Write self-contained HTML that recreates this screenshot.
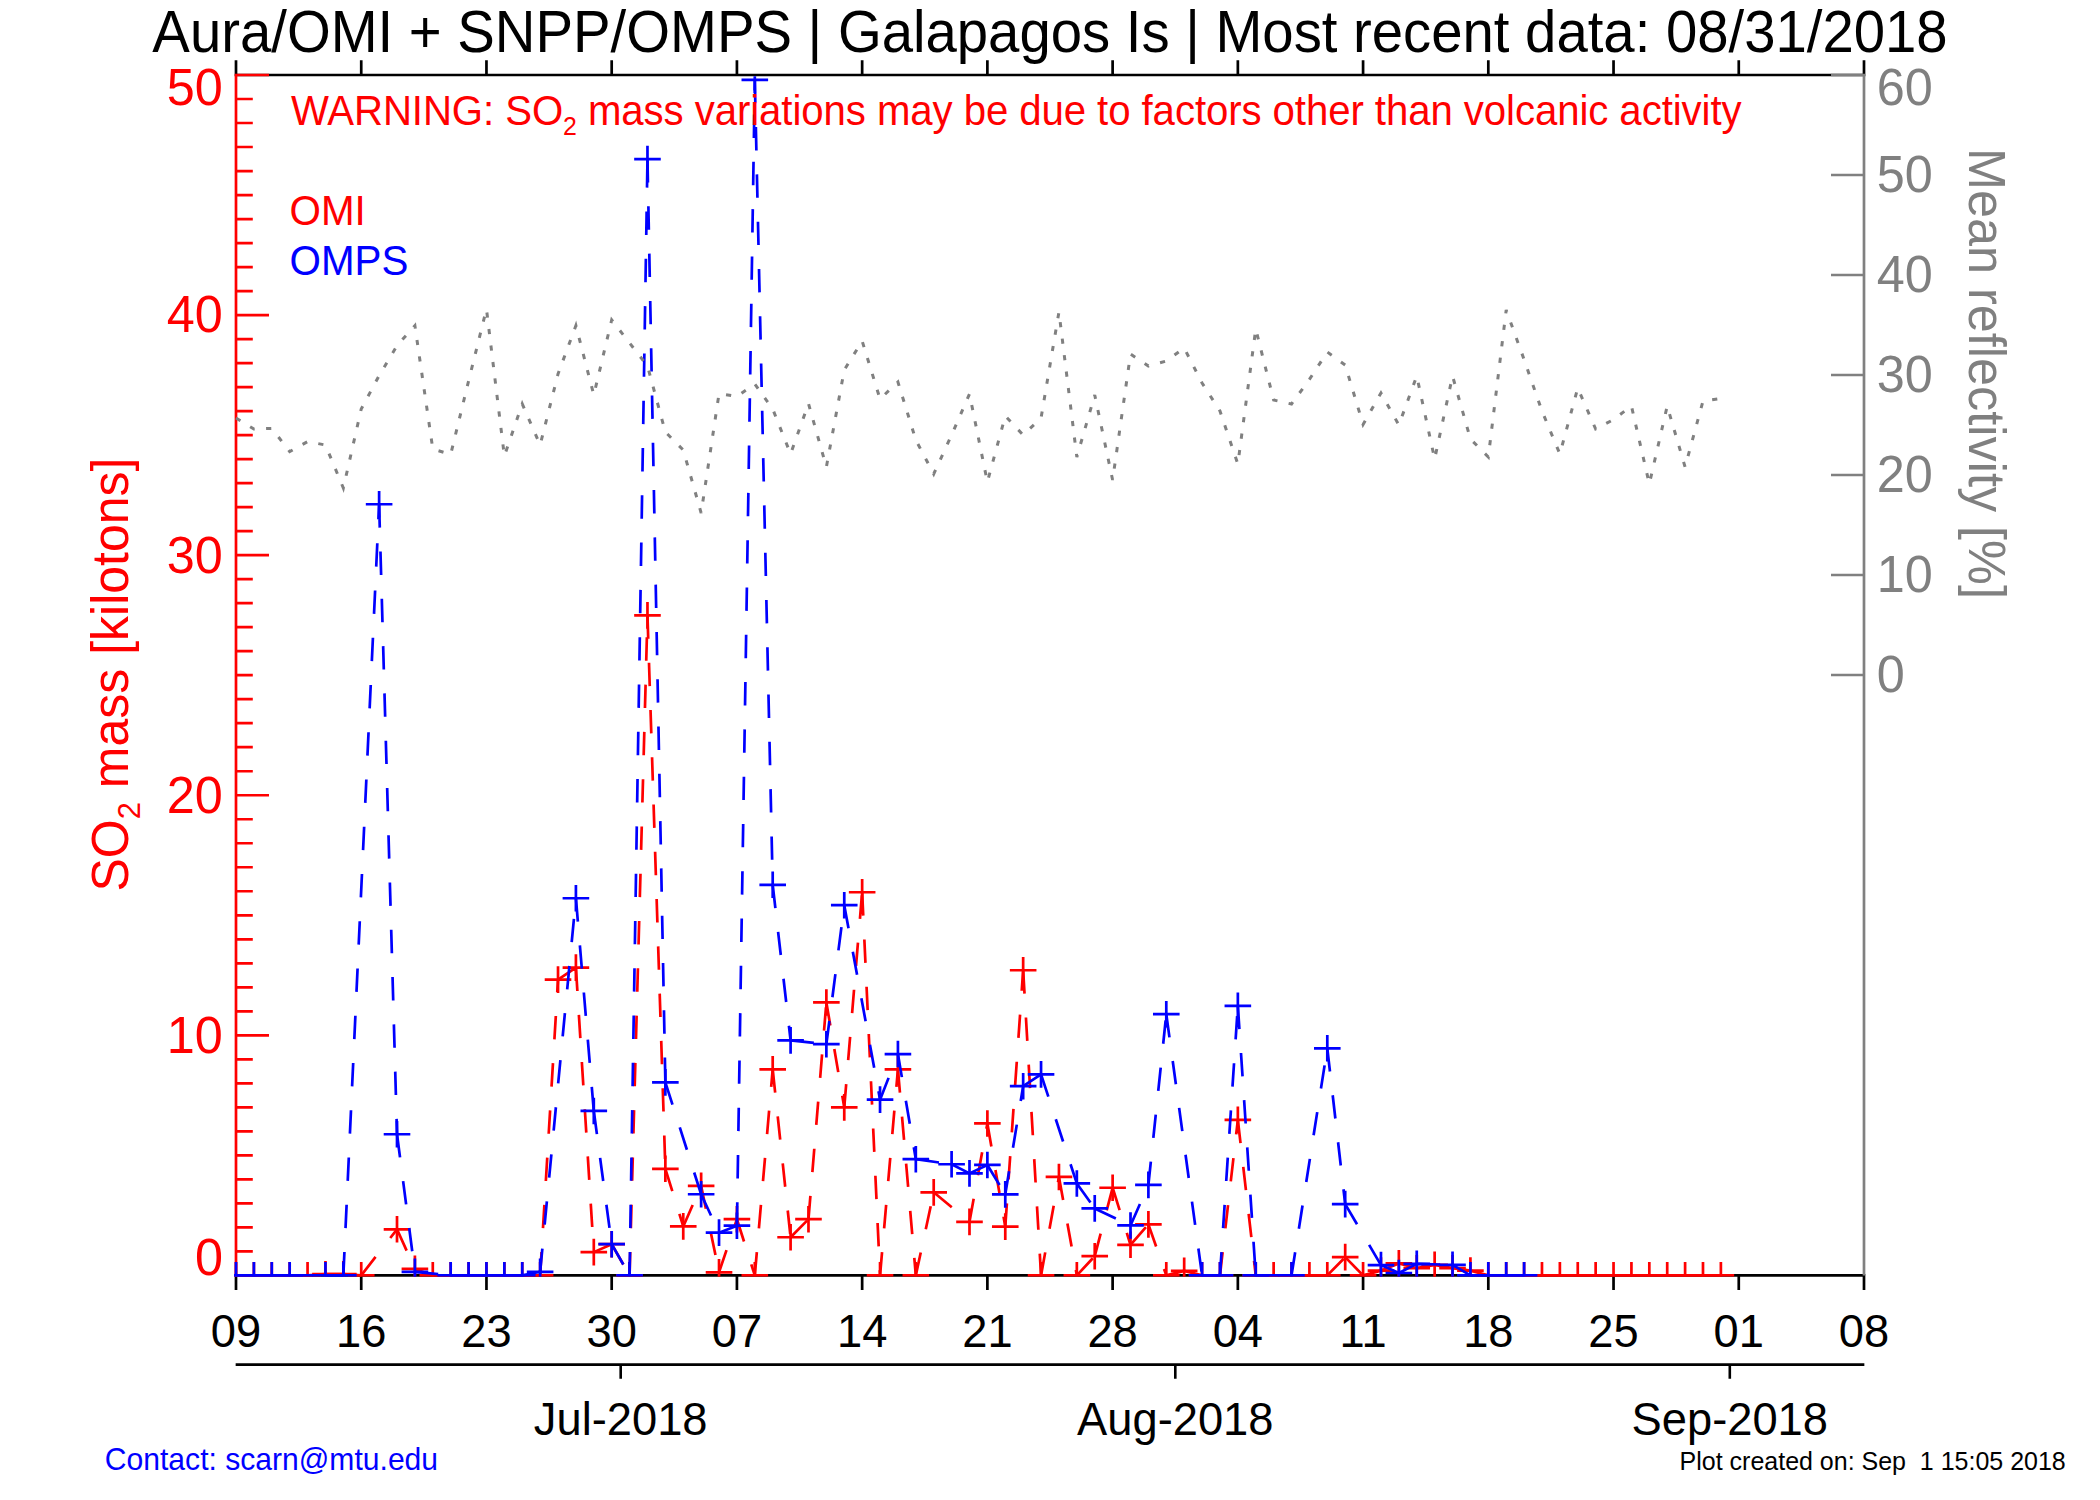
<!DOCTYPE html>
<html lang="en"><head><meta charset="utf-8"><title>Aura/OMI + SNPP/OMPS | Galapagos Is</title>
<style>html,body{margin:0;padding:0;background:#fff}body{width:2100px;height:1500px;overflow:hidden}svg{display:block}text{font-family:"Liberation Sans",sans-serif}</style></head><body>
<svg width="2100" height="1500" viewBox="0 0 2100 1500">
<rect width="2100" height="1500" fill="#fff"/>
<path d="M234.65 75H1865.35M234.65 1275.4H1865.35M236 76.35V60.2M236 1274.05V1289.9M361.23 76.35V60.2M361.23 1274.05V1289.9M486.46 76.35V60.2M486.46 1274.05V1289.9M611.69 76.35V60.2M611.69 1274.05V1289.9M736.92 76.35V60.2M736.92 1274.05V1289.9M862.15 76.35V60.2M862.15 1274.05V1289.9M987.38 76.35V60.2M987.38 1274.05V1289.9M1112.62 76.35V60.2M1112.62 1274.05V1289.9M1237.85 76.35V60.2M1237.85 1274.05V1289.9M1363.08 76.35V60.2M1363.08 1274.05V1289.9M1488.31 76.35V60.2M1488.31 1274.05V1289.9M1613.54 76.35V60.2M1613.54 1274.05V1289.9M1738.77 76.35V60.2M1738.77 1274.05V1289.9M1864 76.35V60.2M1864 1274.05V1289.9" fill="none" stroke="#000000" stroke-width="2.7"/>
<path d="M235.65 1364.6H1864.35M620.7 1364.6V1378.8M1175.3 1364.6V1378.8M1729.8 1364.6V1378.8" fill="none" stroke="#000000" stroke-width="2.6"/>
<path d="M236 73.65V1276.75M236 1275.4H269M236 1251.39H252.8M236 1227.38H252.8M236 1203.38H252.8M236 1179.37H252.8M236 1155.36H252.8M236 1131.35H252.8M236 1107.34H252.8M236 1083.34H252.8M236 1059.33H252.8M236 1035.32H269M236 1011.31H252.8M236 987.3H252.8M236 963.3H252.8M236 939.29H252.8M236 915.28H252.8M236 891.27H252.8M236 867.26H252.8M236 843.26H252.8M236 819.25H252.8M236 795.24H269M236 771.23H252.8M236 747.22H252.8M236 723.22H252.8M236 699.21H252.8M236 675.2H252.8M236 651.19H252.8M236 627.18H252.8M236 603.18H252.8M236 579.17H252.8M236 555.16H269M236 531.15H252.8M236 507.14H252.8M236 483.14H252.8M236 459.13H252.8M236 435.12H252.8M236 411.11H252.8M236 387.1H252.8M236 363.1H252.8M236 339.09H252.8M236 315.08H269M236 291.07H252.8M236 267.06H252.8M236 243.06H252.8M236 219.05H252.8M236 195.04H252.8M236 171.03H252.8M236 147.02H252.8M236 123.02H252.8M236 99.01H252.8M236 75H269" fill="none" stroke="#ff0000" stroke-width="2.7"/>
<path d="M1864 73.65V1275.4M1864 675H1831M1864 575H1831M1864 475H1831M1864 375H1831M1864 275H1831M1864 175H1831M1864 75H1831" fill="none" stroke="#808080" stroke-width="2.7"/>
<defs><clipPath id="pc"><rect x="234" y="76.3" width="1632" height="1200.45"/></clipPath></defs>
<g clip-path="url(#pc)" fill="none" stroke="#ff0000" stroke-width="2.7">
<path d="M236 1275.4L253.89 1275.4M253.89 1275.4L271.78 1275.4M271.78 1275.4L289.67 1275.4M289.67 1275.4L307.56 1275.4M307.56 1275.4L325.45 1274.2M325.45 1274.2L343.34 1274.2M343.34 1274.2L361.23 1275.4M361.23 1275.4L397.01 1229.3M397.01 1229.3L414.9 1268.92M414.9 1268.92L432.79 1275.4M432.79 1275.4L450.68 1275.4M450.68 1275.4L468.57 1275.4M468.57 1275.4L486.46 1275.4M486.46 1275.4L504.35 1275.4M504.35 1275.4L522.24 1275.4M522.24 1275.4L540.13 1275.4M540.13 1275.4L558.02 979.62M558.02 979.62L575.91 967.62M575.91 967.62L593.8 1252.11M593.8 1252.11L611.69 1244.19M611.69 1244.19L629.58 1275.4M629.58 1275.4L647.47 615.42M647.47 615.42L665.36 1168.8M665.36 1168.8L683.25 1226.42M683.25 1226.42L701.14 1185.85M701.14 1185.85L719.03 1272.28M719.03 1272.28L736.92 1219.22M736.92 1219.22L754.81 1275.4M754.81 1275.4L772.7 1069.41M772.7 1069.41L790.59 1237.23M790.59 1237.23L808.48 1219.22M808.48 1219.22L826.37 1002.43M826.37 1002.43L844.26 1107.34M844.26 1107.34L862.15 892.23M862.15 892.23L880.04 1275.4M880.04 1275.4L897.93 1069.41M897.93 1069.41L915.82 1275.4M915.82 1275.4L933.71 1192.33M933.71 1192.33L969.49 1221.86M969.49 1221.86L987.38 1123.43M987.38 1123.43L1005.27 1226.66M1005.27 1226.66L1023.16 970.26M1023.16 970.26L1041.05 1275.4M1041.05 1275.4L1058.95 1176.97M1058.95 1176.97L1076.84 1275.4M1076.84 1275.4L1094.73 1256.19M1094.73 1256.19L1112.62 1187.77M1112.62 1187.77L1130.51 1244.79M1130.51 1244.79L1148.4 1224.38M1148.4 1224.38L1166.29 1275.4M1166.29 1275.4L1184.18 1270.84M1184.18 1270.84L1202.07 1275.4M1202.07 1275.4L1219.96 1275.4M1219.96 1275.4L1237.85 1119.83M1237.85 1119.83L1255.74 1275.4M1255.74 1275.4L1273.63 1275.4M1273.63 1275.4L1291.52 1275.4M1291.52 1275.4L1309.41 1275.4M1309.41 1275.4L1327.3 1275.4M1327.3 1275.4L1345.19 1257.15M1345.19 1257.15L1363.08 1275.4M1363.08 1275.4L1380.97 1270.6M1380.97 1270.6L1398.86 1263.4M1398.86 1263.4L1416.75 1268.2M1416.75 1268.2L1434.64 1264.84M1434.64 1264.84L1452.53 1268.2M1452.53 1268.2L1470.42 1270.6M1470.42 1270.6L1488.31 1275.4M1488.31 1275.4L1506.2 1275.4M1506.2 1275.4L1524.09 1275.4M1524.09 1275.4L1541.98 1275.4M1541.98 1275.4L1559.87 1275.4M1559.87 1275.4L1577.76 1275.4M1577.76 1275.4L1595.65 1275.4M1595.65 1275.4L1613.54 1275.4M1613.54 1275.4L1631.43 1275.4M1631.43 1275.4L1649.32 1275.4M1649.32 1275.4L1667.21 1275.4M1667.21 1275.4L1685.1 1275.4M1685.1 1275.4L1702.99 1275.4M1702.99 1275.4L1720.88 1275.4" stroke-dasharray="23.4 23.9"/>
<path d="M222.7 1275.4H249.3M236 1262.1V1288.7M240.59 1275.4H267.19M253.89 1262.1V1288.7M258.48 1275.4H285.08M271.78 1262.1V1288.7M276.37 1275.4H302.97M289.67 1262.1V1288.7M294.26 1275.4H320.86M307.56 1262.1V1288.7M312.15 1274.2H338.75M325.45 1260.9V1287.5M330.04 1274.2H356.64M343.34 1260.9V1287.5M347.93 1275.4H374.53M361.23 1262.1V1288.7M383.71 1229.3H410.31M397.01 1216V1242.6M401.6 1268.92H428.2M414.9 1255.62V1282.22M419.49 1275.4H446.09M432.79 1262.1V1288.7M437.38 1275.4H463.98M450.68 1262.1V1288.7M455.27 1275.4H481.87M468.57 1262.1V1288.7M473.16 1275.4H499.76M486.46 1262.1V1288.7M491.05 1275.4H517.65M504.35 1262.1V1288.7M508.94 1275.4H535.54M522.24 1262.1V1288.7M526.83 1275.4H553.43M540.13 1262.1V1288.7M544.72 979.62H571.32M558.02 966.32V992.92M562.61 967.62H589.21M575.91 954.32V980.92M580.5 1252.11H607.1M593.8 1238.81V1265.41M598.39 1244.19H624.99M611.69 1230.89V1257.49M616.28 1275.4H642.88M629.58 1262.1V1288.7M634.17 615.42H660.77M647.47 602.12V628.72M652.06 1168.8H678.66M665.36 1155.5V1182.1M669.95 1226.42H696.55M683.25 1213.12V1239.72M687.84 1185.85H714.44M701.14 1172.55V1199.15M705.73 1272.28H732.33M719.03 1258.98V1285.58M723.62 1219.22H750.22M736.92 1205.92V1232.52M741.51 1275.4H768.11M754.81 1262.1V1288.7M759.4 1069.41H786M772.7 1056.11V1082.71M777.29 1237.23H803.89M790.59 1223.93V1250.53M795.18 1219.22H821.78M808.48 1205.92V1232.52M813.07 1002.43H839.67M826.37 989.13V1015.73M830.96 1107.34H857.56M844.26 1094.04V1120.64M848.85 892.23H875.45M862.15 878.93V905.53M866.74 1275.4H893.34M880.04 1262.1V1288.7M884.63 1069.41H911.23M897.93 1056.11V1082.71M902.52 1275.4H929.12M915.82 1262.1V1288.7M920.41 1192.33H947.01M933.71 1179.03V1205.63M956.19 1221.86H982.79M969.49 1208.56V1235.16M974.08 1123.43H1000.68M987.38 1110.13V1136.73M991.97 1226.66H1018.57M1005.27 1213.36V1239.96M1009.86 970.26H1036.46M1023.16 956.96V983.56M1027.75 1275.4H1054.35M1041.05 1262.1V1288.7M1045.65 1176.97H1072.25M1058.95 1163.67V1190.27M1063.54 1275.4H1090.14M1076.84 1262.1V1288.7M1081.43 1256.19H1108.03M1094.73 1242.89V1269.49M1099.32 1187.77H1125.92M1112.62 1174.47V1201.07M1117.21 1244.79H1143.81M1130.51 1231.49V1258.09M1135.1 1224.38H1161.7M1148.4 1211.08V1237.68M1152.99 1275.4H1179.59M1166.29 1262.1V1288.7M1170.88 1270.84H1197.48M1184.18 1257.54V1284.14M1188.77 1275.4H1215.37M1202.07 1262.1V1288.7M1206.66 1275.4H1233.26M1219.96 1262.1V1288.7M1224.55 1119.83H1251.15M1237.85 1106.53V1133.13M1242.44 1275.4H1269.04M1255.74 1262.1V1288.7M1260.33 1275.4H1286.93M1273.63 1262.1V1288.7M1278.22 1275.4H1304.82M1291.52 1262.1V1288.7M1296.11 1275.4H1322.71M1309.41 1262.1V1288.7M1314 1275.4H1340.6M1327.3 1262.1V1288.7M1331.89 1257.15H1358.49M1345.19 1243.85V1270.45M1349.78 1275.4H1376.38M1363.08 1262.1V1288.7M1367.67 1270.6H1394.27M1380.97 1257.3V1283.9M1385.56 1263.4H1412.16M1398.86 1250.1V1276.7M1403.45 1268.2H1430.05M1416.75 1254.9V1281.5M1421.34 1264.84H1447.94M1434.64 1251.54V1278.14M1439.23 1268.2H1465.83M1452.53 1254.9V1281.5M1457.12 1270.6H1483.72M1470.42 1257.3V1283.9M1475.01 1275.4H1501.61M1488.31 1262.1V1288.7M1492.9 1275.4H1519.5M1506.2 1262.1V1288.7M1510.79 1275.4H1537.39M1524.09 1262.1V1288.7M1528.68 1275.4H1555.28M1541.98 1262.1V1288.7M1546.57 1275.4H1573.17M1559.87 1262.1V1288.7M1564.46 1275.4H1591.06M1577.76 1262.1V1288.7M1582.35 1275.4H1608.95M1595.65 1262.1V1288.7M1600.24 1275.4H1626.84M1613.54 1262.1V1288.7M1618.13 1275.4H1644.73M1631.43 1262.1V1288.7M1636.02 1275.4H1662.62M1649.32 1262.1V1288.7M1653.91 1275.4H1680.51M1667.21 1262.1V1288.7M1671.8 1275.4H1698.4M1685.1 1262.1V1288.7M1689.69 1275.4H1716.29M1702.99 1262.1V1288.7M1707.58 1275.4H1734.18M1720.88 1262.1V1288.7"/>
</g>
<g clip-path="url(#pc)" fill="none" stroke="#0000ff" stroke-width="2.7">
<path d="M236 1275.4L253.89 1275.4M253.89 1275.4L271.78 1275.4M271.78 1275.4L289.67 1275.4M289.67 1275.4L325.45 1275.4M325.45 1275.4L343.34 1275.4M343.34 1275.4L379.12 504.26M379.12 504.26L397.01 1134.23M397.01 1134.23L414.9 1271.8M414.9 1271.8L450.68 1275.4M450.68 1275.4L468.57 1275.4M468.57 1275.4L486.46 1275.4M486.46 1275.4L504.35 1275.4M504.35 1275.4L522.24 1275.4M522.24 1275.4L540.13 1271.8M540.13 1271.8L575.91 898.23M575.91 898.23L593.8 1110.95M593.8 1110.95L611.69 1244.19M611.69 1244.19L629.58 1275.4M629.58 1275.4L647.47 159.03M647.47 159.03L665.36 1082.38M665.36 1082.38L701.14 1194.25M701.14 1194.25L719.03 1232.67M719.03 1232.67L736.92 1225.7M736.92 1225.7L754.81 79.8M754.81 79.8L772.7 884.79M772.7 884.79L790.59 1040.36M790.59 1040.36L826.37 1044.2M826.37 1044.2L844.26 905.2M844.26 905.2L880.04 1099.66M880.04 1099.66L897.93 1054.05M897.93 1054.05L915.82 1159.2M915.82 1159.2L951.6 1164.24M951.6 1164.24L969.49 1173.37M969.49 1173.37L987.38 1164.96M987.38 1164.96L1005.27 1194.37M1005.27 1194.37L1023.16 1086.22M1023.16 1086.22L1041.05 1074.33M1041.05 1074.33L1076.84 1183.45M1076.84 1183.45L1094.73 1208.42M1094.73 1208.42L1130.51 1225.46M1130.51 1225.46L1148.4 1184.89M1148.4 1184.89L1166.29 1014.19M1166.29 1014.19L1202.07 1275.4M1202.07 1275.4L1219.96 1275.4M1219.96 1275.4L1237.85 1005.79M1237.85 1005.79L1255.74 1275.4M1255.74 1275.4L1291.52 1275.4M1291.52 1275.4L1327.3 1048.28M1327.3 1048.28L1345.19 1204.1M1345.19 1204.1L1380.97 1265.08M1380.97 1265.08L1398.86 1273M1398.86 1273L1416.75 1263.88M1416.75 1263.88L1452.53 1264.84M1452.53 1264.84L1470.42 1275.4M1470.42 1275.4L1488.31 1275.4M1488.31 1275.4L1506.2 1275.4M1506.2 1275.4L1524.09 1275.4" stroke-dasharray="23.4 23.9"/>
<path d="M222.7 1275.4H249.3M236 1262.1V1288.7M240.59 1275.4H267.19M253.89 1262.1V1288.7M258.48 1275.4H285.08M271.78 1262.1V1288.7M276.37 1275.4H302.97M289.67 1262.1V1288.7M312.15 1275.4H338.75M325.45 1262.1V1288.7M330.04 1275.4H356.64M343.34 1262.1V1288.7M365.82 504.26H392.42M379.12 490.96V517.56M383.71 1134.23H410.31M397.01 1120.93V1147.53M401.6 1271.8H428.2M414.9 1258.5V1285.1M437.38 1275.4H463.98M450.68 1262.1V1288.7M455.27 1275.4H481.87M468.57 1262.1V1288.7M473.16 1275.4H499.76M486.46 1262.1V1288.7M491.05 1275.4H517.65M504.35 1262.1V1288.7M508.94 1275.4H535.54M522.24 1262.1V1288.7M526.83 1271.8H553.43M540.13 1258.5V1285.1M562.61 898.23H589.21M575.91 884.93V911.53M580.5 1110.95H607.1M593.8 1097.65V1124.25M598.39 1244.19H624.99M611.69 1230.89V1257.49M616.28 1275.4H642.88M629.58 1262.1V1288.7M634.17 159.03H660.77M647.47 145.73V172.33M652.06 1082.38H678.66M665.36 1069.08V1095.68M687.84 1194.25H714.44M701.14 1180.95V1207.55M705.73 1232.67H732.33M719.03 1219.37V1245.97M723.62 1225.7H750.22M736.92 1212.4V1239M741.51 79.8H768.11M754.81 66.5V93.1M759.4 884.79H786M772.7 871.49V898.09M777.29 1040.36H803.89M790.59 1027.06V1053.66M813.07 1044.2H839.67M826.37 1030.9V1057.5M830.96 905.2H857.56M844.26 891.9V918.5M866.74 1099.66H893.34M880.04 1086.36V1112.96M884.63 1054.05H911.23M897.93 1040.75V1067.35M902.52 1159.2H929.12M915.82 1145.9V1172.5M938.3 1164.24H964.9M951.6 1150.94V1177.54M956.19 1173.37H982.79M969.49 1160.07V1186.67M974.08 1164.96H1000.68M987.38 1151.66V1178.26M991.97 1194.37H1018.57M1005.27 1181.07V1207.67M1009.86 1086.22H1036.46M1023.16 1072.92V1099.52M1027.75 1074.33H1054.35M1041.05 1061.03V1087.63M1063.54 1183.45H1090.14M1076.84 1170.15V1196.75M1081.43 1208.42H1108.03M1094.73 1195.12V1221.72M1117.21 1225.46H1143.81M1130.51 1212.16V1238.76M1135.1 1184.89H1161.7M1148.4 1171.59V1198.19M1152.99 1014.19H1179.59M1166.29 1000.89V1027.49M1188.77 1275.4H1215.37M1202.07 1262.1V1288.7M1206.66 1275.4H1233.26M1219.96 1262.1V1288.7M1224.55 1005.79H1251.15M1237.85 992.49V1019.09M1242.44 1275.4H1269.04M1255.74 1262.1V1288.7M1278.22 1275.4H1304.82M1291.52 1262.1V1288.7M1314 1048.28H1340.6M1327.3 1034.98V1061.58M1331.89 1204.1H1358.49M1345.19 1190.8V1217.4M1367.67 1265.08H1394.27M1380.97 1251.78V1278.38M1385.56 1273H1412.16M1398.86 1259.7V1286.3M1403.45 1263.88H1430.05M1416.75 1250.58V1277.18M1439.23 1264.84H1465.83M1452.53 1251.54V1278.14M1457.12 1275.4H1483.72M1470.42 1262.1V1288.7M1475.01 1275.4H1501.61M1488.31 1262.1V1288.7M1492.9 1275.4H1519.5M1506.2 1262.1V1288.7M1510.79 1275.4H1537.39M1524.09 1262.1V1288.7"/>
</g>
<polyline points="236,418 253.89,429 271.78,428.4 289.67,451.6 307.56,441.6 325.45,445 343.34,488 361.23,409 379.12,375.6 397.01,345.6 414.9,325.6 432.79,449 450.68,454.4 468.57,381 486.46,309 504.35,456 522.24,404 540.13,445 558.02,374 575.91,325.6 593.8,395 611.69,320 629.58,343 647.47,366 665.36,432 683.25,450 701.14,513 719.03,393.6 736.92,396.4 754.81,384 772.7,409 790.59,454 808.48,403.6 826.37,467 844.26,370 862.15,341 880.04,399 897.93,382 915.82,440 933.71,474 951.6,435 969.49,394 987.38,482 1005.27,416 1023.16,435 1041.05,418 1058.95,312 1076.84,457 1094.73,395 1112.62,480 1130.51,354 1148.4,366 1166.29,361 1184.18,348 1202.07,383 1219.96,411 1237.85,464 1255.74,329 1273.63,400 1291.52,404 1309.41,379.4 1327.3,352 1345.19,365 1363.08,424.4 1380.97,393 1398.86,425 1416.75,376 1434.64,459 1452.53,376 1470.42,439 1488.31,457 1506.2,310 1524.09,359.6 1541.98,411 1559.87,454 1577.76,388 1595.65,429 1613.54,419.6 1631.43,406 1649.32,484 1667.21,406 1685.1,467 1702.99,401 1720.88,398.4" fill="none" stroke="#808080" stroke-width="3" stroke-dasharray="5.2 11.4"/>
<text transform="translate(1050 52.1) scale(1 1.04)" font-size="56.3" fill="#000000" text-anchor="middle">Aura/OMI + SNPP/OMPS | Galapagos Is | Most recent data: 08/31/2018</text>
<text transform="translate(236 1346.6) scale(1 1.035)" font-size="45.3" fill="#000000" text-anchor="middle">09</text>
<text transform="translate(361.23 1346.6) scale(1 1.035)" font-size="45.3" fill="#000000" text-anchor="middle">16</text>
<text transform="translate(486.46 1346.6) scale(1 1.035)" font-size="45.3" fill="#000000" text-anchor="middle">23</text>
<text transform="translate(611.69 1346.6) scale(1 1.035)" font-size="45.3" fill="#000000" text-anchor="middle">30</text>
<text transform="translate(736.92 1346.6) scale(1 1.035)" font-size="45.3" fill="#000000" text-anchor="middle">07</text>
<text transform="translate(862.15 1346.6) scale(1 1.035)" font-size="45.3" fill="#000000" text-anchor="middle">14</text>
<text transform="translate(987.38 1346.6) scale(1 1.035)" font-size="45.3" fill="#000000" text-anchor="middle">21</text>
<text transform="translate(1112.62 1346.6) scale(1 1.035)" font-size="45.3" fill="#000000" text-anchor="middle">28</text>
<text transform="translate(1237.85 1346.6) scale(1 1.035)" font-size="45.3" fill="#000000" text-anchor="middle">04</text>
<text transform="translate(1363.08 1346.6) scale(1 1.035)" font-size="45.3" fill="#000000" text-anchor="middle">11</text>
<text transform="translate(1488.31 1346.6) scale(1 1.035)" font-size="45.3" fill="#000000" text-anchor="middle">18</text>
<text transform="translate(1613.54 1346.6) scale(1 1.035)" font-size="45.3" fill="#000000" text-anchor="middle">25</text>
<text transform="translate(1738.77 1346.6) scale(1 1.035)" font-size="45.3" fill="#000000" text-anchor="middle">01</text>
<text transform="translate(1864 1346.6) scale(1 1.035)" font-size="45.3" fill="#000000" text-anchor="middle">08</text>
<text transform="translate(620.7 1435) scale(1 1.03)" font-size="45.3" fill="#000000" text-anchor="middle">Jul-2018</text>
<text transform="translate(1175.3 1435) scale(1 1.03)" font-size="45.3" fill="#000000" text-anchor="middle">Aug-2018</text>
<text transform="translate(1729.8 1435) scale(1 1.03)" font-size="45.3" fill="#000000" text-anchor="middle">Sep-2018</text>
<text transform="translate(222.9 1052.72) scale(1 1.035)" font-size="50.4" fill="#ff0000" text-anchor="end">10</text>
<text transform="translate(222.9 812.64) scale(1 1.035)" font-size="50.4" fill="#ff0000" text-anchor="end">20</text>
<text transform="translate(222.9 572.56) scale(1 1.035)" font-size="50.4" fill="#ff0000" text-anchor="end">30</text>
<text transform="translate(222.9 332.48) scale(1 1.035)" font-size="50.4" fill="#ff0000" text-anchor="end">40</text>
<text transform="translate(222.9 104.6) scale(1 1.035)" font-size="50.4" fill="#ff0000" text-anchor="end">50</text>
<text transform="translate(222.9 1275.2) scale(1 1.035)" font-size="50.4" fill="#ff0000" text-anchor="end">0</text>
<text transform="translate(1876.8 692.4) scale(1 1.035)" font-size="50.4" fill="#808080" text-anchor="start">0</text>
<text transform="translate(1876.8 592.4) scale(1 1.035)" font-size="50.4" fill="#808080" text-anchor="start">10</text>
<text transform="translate(1876.8 492.4) scale(1 1.035)" font-size="50.4" fill="#808080" text-anchor="start">20</text>
<text transform="translate(1876.8 392.4) scale(1 1.035)" font-size="50.4" fill="#808080" text-anchor="start">30</text>
<text transform="translate(1876.8 292.4) scale(1 1.035)" font-size="50.4" fill="#808080" text-anchor="start">40</text>
<text transform="translate(1876.8 192.4) scale(1 1.035)" font-size="50.4" fill="#808080" text-anchor="start">50</text>
<text transform="translate(1876.8 104.6) scale(1 1.035)" font-size="50.4" fill="#808080" text-anchor="start">60</text>
<text transform="translate(128.4 891.5) rotate(-90) scale(1 1.03)" font-size="50" fill="#ff0000" text-anchor="start">SO<tspan font-size="31" dy="11.5">2</tspan><tspan dy="-11.5"> mass [kilotons]</tspan></text>
<text transform="translate(1968.6 148) rotate(90) scale(1 1.03)" font-size="50.4" fill="#808080" text-anchor="start">Mean reflectivity [%]</text>
<text transform="translate(290.9 125) scale(1 1.045)" font-size="40.2" fill="#ff0000" text-anchor="start" letter-spacing="-0.09">WARNING: SO<tspan font-size="24.9" dy="9.2">2</tspan><tspan dy="-9.2"> mass variations may be due to factors other than volcanic activity</tspan></text>
<text transform="translate(289.5 225) scale(1 1.045)" font-size="40.4" fill="#ff0000" text-anchor="start">OMI</text>
<text transform="translate(289.5 275) scale(1 1.045)" font-size="40.4" fill="#0000ff" text-anchor="start">OMPS</text>
<text transform="translate(104.8 1469.8) scale(1 1.03)" font-size="30.1" fill="#0000ff" text-anchor="start">Contact: scarn@mtu.edu</text>
<text transform="translate(1679.6 1469.9) scale(1 1.03)" font-size="25" fill="#000000" text-anchor="start" xml:space="preserve" style="white-space:pre">Plot created on: Sep  1 15:05 2018</text>
</svg></body></html>
